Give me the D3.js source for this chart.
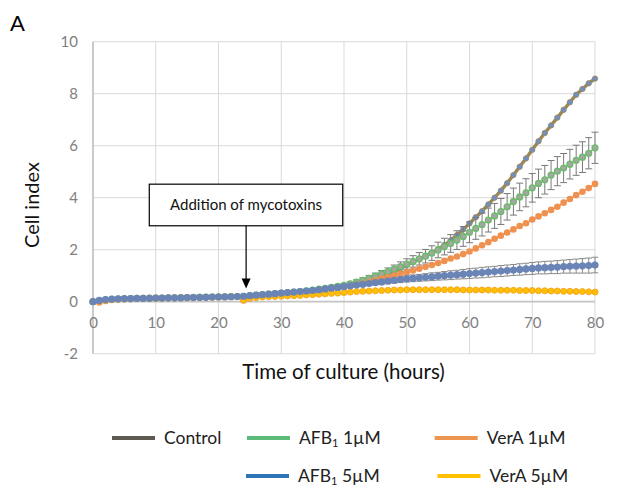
<!DOCTYPE html>
<html><head><meta charset="utf-8">
<script src="https://cdn.jsdelivr.net/npm/d3@7"></script>
<style>
html,body{margin:0;padding:0;background:#fff;}
svg{display:block;font-family:Lato,"Open Sans",sans-serif;}
</style></head>
<body><svg id="c" width="638" height="487"></svg>
<script>
const hours = [0,1,2,3,4,5,6,7,8,9,10,11,12,13,14,15,16,17,18,19,20,21,22,23,24,25,26,27,28,29,30,31,32,33,34,35,36,37,38,39,40,41,42,43,44,45,46,47,48,49,50,51,52,53,54,55,56,57,58,59,60,61,62,63,64,65,66,67,68,69,70,71,72,73,74,75,76,77,78,79,80];

const control = [0.00,0.04,0.07,0.09,0.10,0.11,0.12,0.12,0.13,0.13,0.13,0.14,0.14,0.15,0.15,0.16,0.16,0.17,0.17,0.18,0.18,0.19,0.19,0.20,
0.21,0.22,0.24,0.25,0.27,0.29,0.31,0.33,0.35,0.37,0.40,0.43,0.46,0.49,0.52,0.56,0.60,
0.65,0.71,0.77,0.84,0.91,0.99,1.08,1.18,1.29,1.41,
1.52,1.63,1.75,1.88,2.02,2.18,2.36,2.56,2.78,3.01,
3.25,3.48,3.74,4.00,4.27,4.56,4.87,5.19,5.51,5.84,
6.17,6.49,6.78,7.08,7.38,7.67,7.96,8.18,8.40,8.58];

const afb1 = [0.00,0.04,0.07,0.09,0.10,0.11,0.12,0.13,0.13,0.14,0.14,0.14,0.15,0.15,0.16,0.16,0.17,0.17,0.18,0.18,0.19,0.19,0.20,0.20,
0.21,0.23,0.25,0.27,0.29,0.31,0.33,0.35,0.37,0.39,0.42,0.45,0.48,0.51,0.55,0.59,0.63,
0.69,0.75,0.82,0.90,0.98,1.07,1.16,1.25,1.35,1.45,
1.55,1.65,1.75,1.87,1.99,2.12,2.24,2.37,2.51,2.67,
2.82,2.97,3.14,3.30,3.47,3.65,3.85,4.03,4.19,4.38,
4.55,4.69,4.87,5.02,5.14,5.29,5.44,5.56,5.71,5.92];

const afb1Err = [0.01,0.01,0.01,0.01,0.01,0.01,0.01,0.01,0.01,0.01,0.01,0.01,0.01,0.01,0.01,0.01,0.01,0.01,0.01,0.01,0.01,0.01,0.01,0.01,
0.02,0.02,0.02,0.02,0.03,0.03,0.03,0.03,0.04,0.04,0.04,0.05,0.05,0.05,0.06,0.06,0.07,
0.08,0.09,0.10,0.11,0.12,0.13,0.14,0.16,0.18,0.20,
0.22,0.24,0.26,0.28,0.30,0.32,0.34,0.36,0.38,0.40,
0.42,0.44,0.46,0.48,0.50,0.51,0.52,0.53,0.54,0.55,
0.55,0.55,0.56,0.56,0.56,0.57,0.58,0.59,0.60,0.60];

const vera1 = [0.00,-0.03,0.03,0.07,0.09,0.10,0.11,0.12,0.12,0.13,0.13,0.13,0.14,0.14,0.15,0.15,0.16,0.16,0.17,0.17,0.18,0.18,0.19,0.19,
0.05,0.13,0.17,0.20,0.22,0.24,0.26,0.28,0.30,0.32,0.35,0.38,0.41,0.44,0.48,0.52,0.56,
0.60,0.65,0.70,0.76,0.82,0.89,0.95,1.01,1.07,1.13,
1.20,1.27,1.34,1.41,1.49,1.57,1.66,1.74,1.83,1.93,
2.05,2.17,2.29,2.42,2.54,2.66,2.78,2.91,3.02,3.16,
3.28,3.40,3.53,3.65,3.81,3.95,4.10,4.23,4.37,4.53];

const vera5 = [0.00,0.02,0.05,0.08,0.10,0.11,0.12,0.12,0.13,0.13,0.13,0.14,0.14,0.15,0.15,0.15,0.16,0.16,0.17,0.17,0.18,0.18,0.19,0.19,
0.07,0.13,0.16,0.18,0.19,0.20,0.21,0.22,0.23,0.24,0.26,0.27,0.29,0.30,0.32,0.33,0.35,
0.37,0.39,0.40,0.41,0.42,0.43,0.44,0.45,0.45,0.46,
0.46,0.46,0.46,0.46,0.46,0.46,0.46,0.46,0.45,0.45,
0.45,0.45,0.45,0.44,0.44,0.44,0.44,0.43,0.43,0.43,
0.42,0.42,0.41,0.41,0.40,0.40,0.39,0.39,0.38,0.37];

const afb5 = [0.00,0.05,0.08,0.10,0.11,0.12,0.12,0.13,0.13,0.13,0.14,0.14,0.15,0.15,0.15,0.16,0.16,0.17,0.17,0.18,0.18,0.19,0.19,0.20,
0.21,0.23,0.25,0.27,0.29,0.31,0.33,0.35,0.37,0.39,0.41,0.43,0.46,0.49,0.52,0.55,0.58,
0.61,0.64,0.67,0.70,0.73,0.76,0.79,0.82,0.85,0.88,
0.90,0.92,0.94,0.96,0.98,1.00,1.02,1.04,1.06,1.08,
1.10,1.12,1.14,1.16,1.18,1.20,1.22,1.24,1.26,1.28,
1.30,1.31,1.32,1.33,1.35,1.36,1.37,1.38,1.39,1.41];

const afb5Err = [0.01,0.01,0.01,0.01,0.01,0.01,0.01,0.01,0.01,0.01,0.01,0.01,0.01,0.01,0.01,0.01,0.01,0.01,0.01,0.01,0.01,0.01,0.01,0.01,
0.02,0.02,0.02,0.02,0.02,0.03,0.03,0.03,0.03,0.03,0.04,0.04,0.04,0.04,0.05,0.05,0.05,
0.05,0.06,0.06,0.07,0.07,0.08,0.09,0.10,0.11,0.12,
0.13,0.13,0.14,0.15,0.15,0.16,0.17,0.17,0.18,0.19,
0.19,0.20,0.20,0.20,0.21,0.21,0.21,0.22,0.22,0.23,
0.23,0.24,0.24,0.25,0.25,0.26,0.27,0.28,0.29,0.30];

const xTicks = [0,10,20,30,40,50,60,70,80];
const yTicks = [-2,0,2,4,6,8,10];
const legendRow1 = [["Control","",""], ["AFB","1"," 1\u00b5M"], ["VerA",""," 1\u00b5M"]];
const legendRow2 = [["AFB","1"," 5\u00b5M"], ["VerA",""," 5\u00b5M"]];
const annotationText = "Addition of mycotoxins";
const additionTime = 24.4;

const svg = d3.select("#c");
const x = d3.scaleLinear().domain([0,80]).range([93,595]);
const y = d3.scaleLinear().domain([-2,10]).range([353.7,41.7]);

// gridlines
const g = svg.append("g");
g.selectAll("line.h").data(yTicks.filter(d=>d!==0)).join("line")
  .attr("x1",x(0)).attr("x2",x(80)).attr("y1",d=>y(d)).attr("y2",d=>y(d))
  .attr("stroke","#d9d9d9").attr("stroke-width",1);
g.selectAll("line.v").data(xTicks.filter(d=>d!==0)).join("line")
  .attr("x1",d=>x(d)).attr("x2",d=>x(d)).attr("y1",y(10)).attr("y2",y(-2))
  .attr("stroke","#d9d9d9").attr("stroke-width",1);
// axis lines
g.append("line").attr("x1",x(0)).attr("x2",x(0)).attr("y1",y(10)).attr("y2",y(-2)).attr("stroke","#c4c4c4").attr("stroke-width",1.8);
g.append("line").attr("x1",x(0)).attr("x2",x(80)).attr("y1",y(0)).attr("y2",y(0)).attr("stroke","#c4c4c4").attr("stroke-width",1.8);

// axis labels via d3 axes
const yAx = svg.append("g").attr("transform",`translate(${x(0)-15},0)`)
  .call(d3.axisLeft(y).tickValues(yTicks).tickFormat(d=>String(d)).tickSize(0).tickPadding(0));
yAx.select(".domain").remove();
yAx.selectAll("text").attr("font-family","Lato").attr("font-size",15).attr("fill","#808080");

const xAx = svg.append("g").attr("transform",`translate(0,${y(0)})`)
  .call(d3.axisBottom(x).tickValues(xTicks).tickFormat(d=>String(d)).tickSize(0).tickPadding(0));
xAx.select(".domain").remove();
xAx.selectAll("text").attr("font-family","Lato").attr("font-size",15).attr("fill","#808080").attr("y",21).attr("dy","0.35em");

// data rows
const rows = hours.map((h,i)=>({h, control:control[i], afb1:afb1[i], afb1e:afb1Err[i], vera1:vera1[i], vera5:vera5[i], afb5:afb5[i], afb5e:afb5Err[i]}));

const line = key => d3.line().x(d=>x(d.h)).y(d=>y(d[key]));

// control
svg.append("path").datum(rows).attr("d",line("control")).attr("fill","none").attr("stroke","#9c8757").attr("stroke-width",3.4);
svg.append("g").selectAll("circle").data(rows).join("circle")
  .attr("cx",d=>x(d.h)).attr("cy",d=>y(d.control)).attr("r",2.7).attr("fill","#6f8fc2").attr("stroke","#9c8757").attr("stroke-width",0.8);

function errBars(key, ekey, color, cap){
  const eg = svg.append("g").attr("stroke",color).attr("stroke-width",1).attr("fill","none");
  eg.selectAll("path").data(rows).join("path")
    .attr("d",d=>{
      const cx=x(d.h), t=y(d[key]+d[ekey]), b=y(d[key]-d[ekey]);
      return `M${cx},${t}V${b}M${cx-cap},${t}H${cx+cap}M${cx-cap},${b}H${cx+cap}`;
    });
}

// AFB1 1uM
errBars("afb1","afb1e","#7a7a7a",3.5);
svg.append("path").datum(rows).attr("d",line("afb1")).attr("fill","none").attr("stroke","#70b86f").attr("stroke-width",1.5);
svg.append("g").selectAll("circle").data(rows).join("circle")
  .attr("cx",d=>x(d.h)).attr("cy",d=>y(d.afb1)).attr("r",2.9).attr("fill","#a6a6a6").attr("stroke","#6cbb6a").attr("stroke-width",1.4);

// VerA 1uM
svg.append("path").datum(rows).attr("d",line("vera1")).attr("fill","none").attr("stroke","#ed8a45").attr("stroke-width",1.5);
svg.append("g").selectAll("circle").data(rows).join("circle")
  .attr("cx",d=>x(d.h)).attr("cy",d=>y(d.vera1)).attr("r",3.3).attr("fill","#ef9150");

// VerA 5uM
svg.append("path").datum(rows).attr("d",line("vera5")).attr("fill","none").attr("stroke","#f2a31b").attr("stroke-width",1.5);
svg.append("g").selectAll("circle").data(rows).join("circle")
  .attr("cx",d=>x(d.h)).attr("cy",d=>y(d.vera5)).attr("r",3.0).attr("fill","#ffc000").attr("stroke","#f5a623").attr("stroke-width",1);

// AFB1 5uM
errBars("afb5","afb5e","#8a8a8a",3.3);
svg.append("path").datum(rows).attr("d",line("afb5")).attr("fill","none").attr("stroke","#6a84b6").attr("stroke-width",2.5);
svg.append("g").selectAll("circle").data(rows).join("circle")
  .attr("cx",d=>x(d.h)).attr("cy",d=>y(d.afb5)).attr("r",3.6).attr("fill","#6a84b6");

// annotation box
const bx0=x(8.97), bx1=x(39.8), by0=y(4.52), by1=y(2.92);
svg.append("rect").attr("x",bx0).attr("y",by0).attr("width",bx1-bx0).attr("height",by1-by0)
  .attr("fill","#fff").attr("stroke","#000").attr("stroke-width",1.2);
svg.append("text").attr("x",(bx0+bx1)/2).attr("y",(by0+by1)/2).attr("dy","0.35em").attr("text-anchor","middle")
  .attr("font-family","Lato").attr("font-size",15).attr("fill","#111").text(annotationText);
const ax = x(additionTime);
const tipY = y(0.51);
svg.append("line").attr("x1",ax).attr("x2",ax).attr("y1",by1).attr("y2",tipY-9).attr("stroke","#000").attr("stroke-width",1.2);
svg.append("path").attr("d",`M${ax-4.5},${tipY-10}L${ax+4.5},${tipY-10}L${ax},${tipY}Z`).attr("fill","#000");

// titles
svg.append("text").attr("x",10).attr("y",31).attr("font-family","Lato").attr("font-size",22).attr("fill","#000").text("A");
svg.append("text").attr("transform","translate(39,205) rotate(-90)").attr("text-anchor","middle")
  .attr("font-family","Lato").attr("font-size",20).attr("fill","#111").text("Cell index");
svg.append("text").attr("x",343.5).attr("y",379).attr("text-anchor","middle")
  .attr("font-family","Lato").attr("font-size",20.5).attr("fill","#111").text("Time of culture (hours)");

// legend
const legColors1 = ["#5d5a52","#5dbb7a","#eb9550"];
const legColors2 = ["#2e75b6","#ffc000"];
const legX1 = [112,247,434.7];
const legX2 = [246,437.5];
function legendRow(items, colors, xs, yy){
  items.forEach((it,i)=>{
    svg.append("line").attr("x1",xs[i]).attr("x2",xs[i]+43).attr("y1",yy).attr("y2",yy)
      .attr("stroke",colors[i]).attr("stroke-width",4);
    const t = svg.append("text").attr("x",xs[i]+52).attr("y",yy).attr("dy","0.35em")
      .attr("font-family","Lato").attr("font-size",17.5).attr("fill","#222");
    t.append("tspan").text(it[0]);
    if(it[1]) t.append("tspan").attr("font-size",11).attr("dy","0.3em").text(it[1]);
    if(it[2]) t.append("tspan").attr("dy", it[1] ? "-0.19em" : 0).text(it[2]);
  });
}
legendRow(legendRow1, legColors1, legX1, 438);
legendRow(legendRow2, legColors2, legX2, 476);
</script></body></html>
